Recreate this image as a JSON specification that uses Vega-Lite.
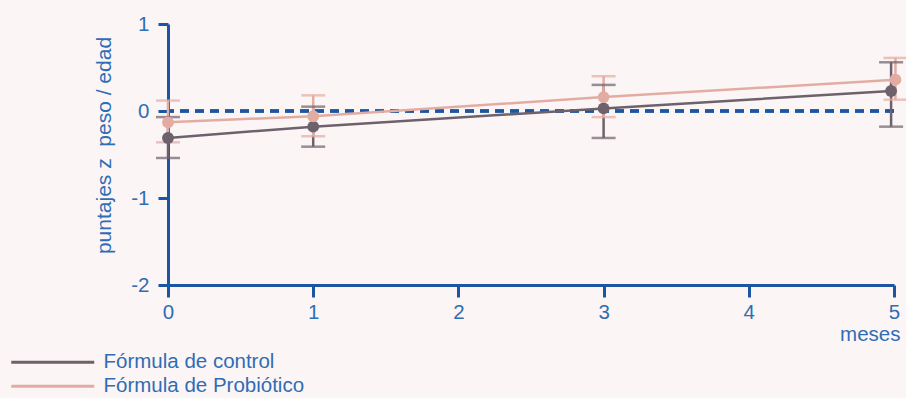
{
  "$schema": "https://vega.github.io/schema/vega-lite/v6.json",
  "width": 726,
  "height": 261,
  "autosize": {"type": "none"},
  "padding": {"left": 168, "top": 24, "right": 12, "bottom": 113},
  "background": "#fcf5f5",
  "config": {
    "view": {"stroke": null},
    "font": "Liberation Sans",
    "axis": {"grid": false}
  },
  "data": {
    "values": [
      {"serie": "Fórmula de control", "mes": 0, "z": -0.31, "lo": -0.54, "hi": -0.07},
      {"serie": "Fórmula de control", "mes": 1, "z": -0.18, "lo": -0.41, "hi": 0.05},
      {"serie": "Fórmula de control", "mes": 3, "z": 0.03, "lo": -0.31, "hi": 0.30},
      {"serie": "Fórmula de control", "mes": 4.98, "z": 0.23, "lo": -0.18, "hi": 0.56},
      {"serie": "Fórmula de Probiótico", "mes": 0, "z": -0.13, "lo": -0.36, "hi": 0.12},
      {"serie": "Fórmula de Probiótico", "mes": 1, "z": -0.06, "lo": -0.29, "hi": 0.18},
      {"serie": "Fórmula de Probiótico", "mes": 3, "z": 0.16, "lo": -0.07, "hi": 0.40},
      {"serie": "Fórmula de Probiótico", "mes": 5.01, "z": 0.36, "lo": 0.13, "hi": 0.61}
    ]
  },
  "encoding": {
    "x": {
      "field": "mes", "type": "quantitative",
      "scale": {"domain": [0, 5], "nice": false, "zero": false},
      "axis": {
        "values": [0, 1, 2, 3, 4, 5],
        "title": "meses",
        "titleX": 732, "titleY": 55,
        "titleAlign": "right", "titleBaseline": "alphabetic",
        "titleFontSize": 20.5, "titleFontWeight": "normal", "titleColor": "#2f6db5",
        "domainColor": "#1c56a0", "domainWidth": 3,
        "tickColor": "#1c56a0", "tickWidth": 3, "tickSize": 12,
        "labelColor": "#2f6db5", "labelFontSize": 20.5, "labelPadding": 5,
        "labelFlush": false
      }
    },
    "y": {
      "field": "z", "type": "quantitative",
      "scale": {"domain": [-2, 1], "nice": false, "zero": false},
      "axis": {
        "values": [-2, -1, 0, 1],
        "labelExpr": "'' + datum.value",
        "title": "puntajes z\u00a0 peso / edad",
        "titleX": -64, "titleY": 121,
        "titleAngle": 270, "titleAlign": "center", "titleBaseline": "middle",
        "titleFontSize": 21, "titleFontWeight": "normal", "titleColor": "#2f6db5",
        "domainColor": "#1c56a0", "domainWidth": 3,
        "tickColor": "#1c56a0", "tickWidth": 3, "tickSize": 10,
        "labelColor": "#2f6db5", "labelFontSize": 20.5, "labelPadding": 9,
        "labelBaseline": "middle", "labelFlush": false
      }
    },
    "color": {
      "field": "serie", "type": "nominal",
      "scale": {
        "domain": ["Fórmula de control", "Fórmula de Probiótico"],
        "range": ["#6d616b", "#e3aca3"]
      },
      "legend": {
        "orient": "none", "legendX": -167, "legendY": 328,
        "title": null, "padding": 0,
        "symbolType": "M0,0h83", "symbolSize": 4, "symbolStrokeWidth": 3,
        "labelOffset": 82, "labelFontSize": 20.5, "labelColor": "#2f6db5",
        "rowPadding": 3, "labelLimit": 400,
        "encode": {
          "symbols": {
            "update": {
              "stroke": {"scale": "color", "field": "value"},
              "fill": {"value": "transparent"}
            }
          }
        }
      }
    }
  },
  "layer": [
    {
      "mark": {"type": "rule", "color": "#1c56a0", "strokeWidth": 2.5, "strokeDash": [9, 6]},
      "encoding": {"y": {"datum": 0}, "x": null, "color": null}
    },
    {
      "mark": {"type": "rule", "strokeWidth": 2.5, "clip": false},
      "encoding": {"y": {"field": "lo", "type": "quantitative"}, "y2": {"field": "hi"}}
    },
    {
      "mark": {"type": "tick", "orient": "horizontal", "size": 24, "thickness": 2.5, "clip": false},
      "encoding": {"y": {"field": "lo", "type": "quantitative"}}
    },
    {
      "mark": {"type": "tick", "orient": "horizontal", "size": 24, "thickness": 2.5, "clip": false},
      "encoding": {"y": {"field": "hi", "type": "quantitative"}}
    },
    {
      "mark": {"type": "line", "strokeWidth": 2.5, "clip": false}
    },
    {
      "mark": {"type": "point", "filled": true, "size": 140, "opacity": 1, "clip": false}
    }
  ]
}
